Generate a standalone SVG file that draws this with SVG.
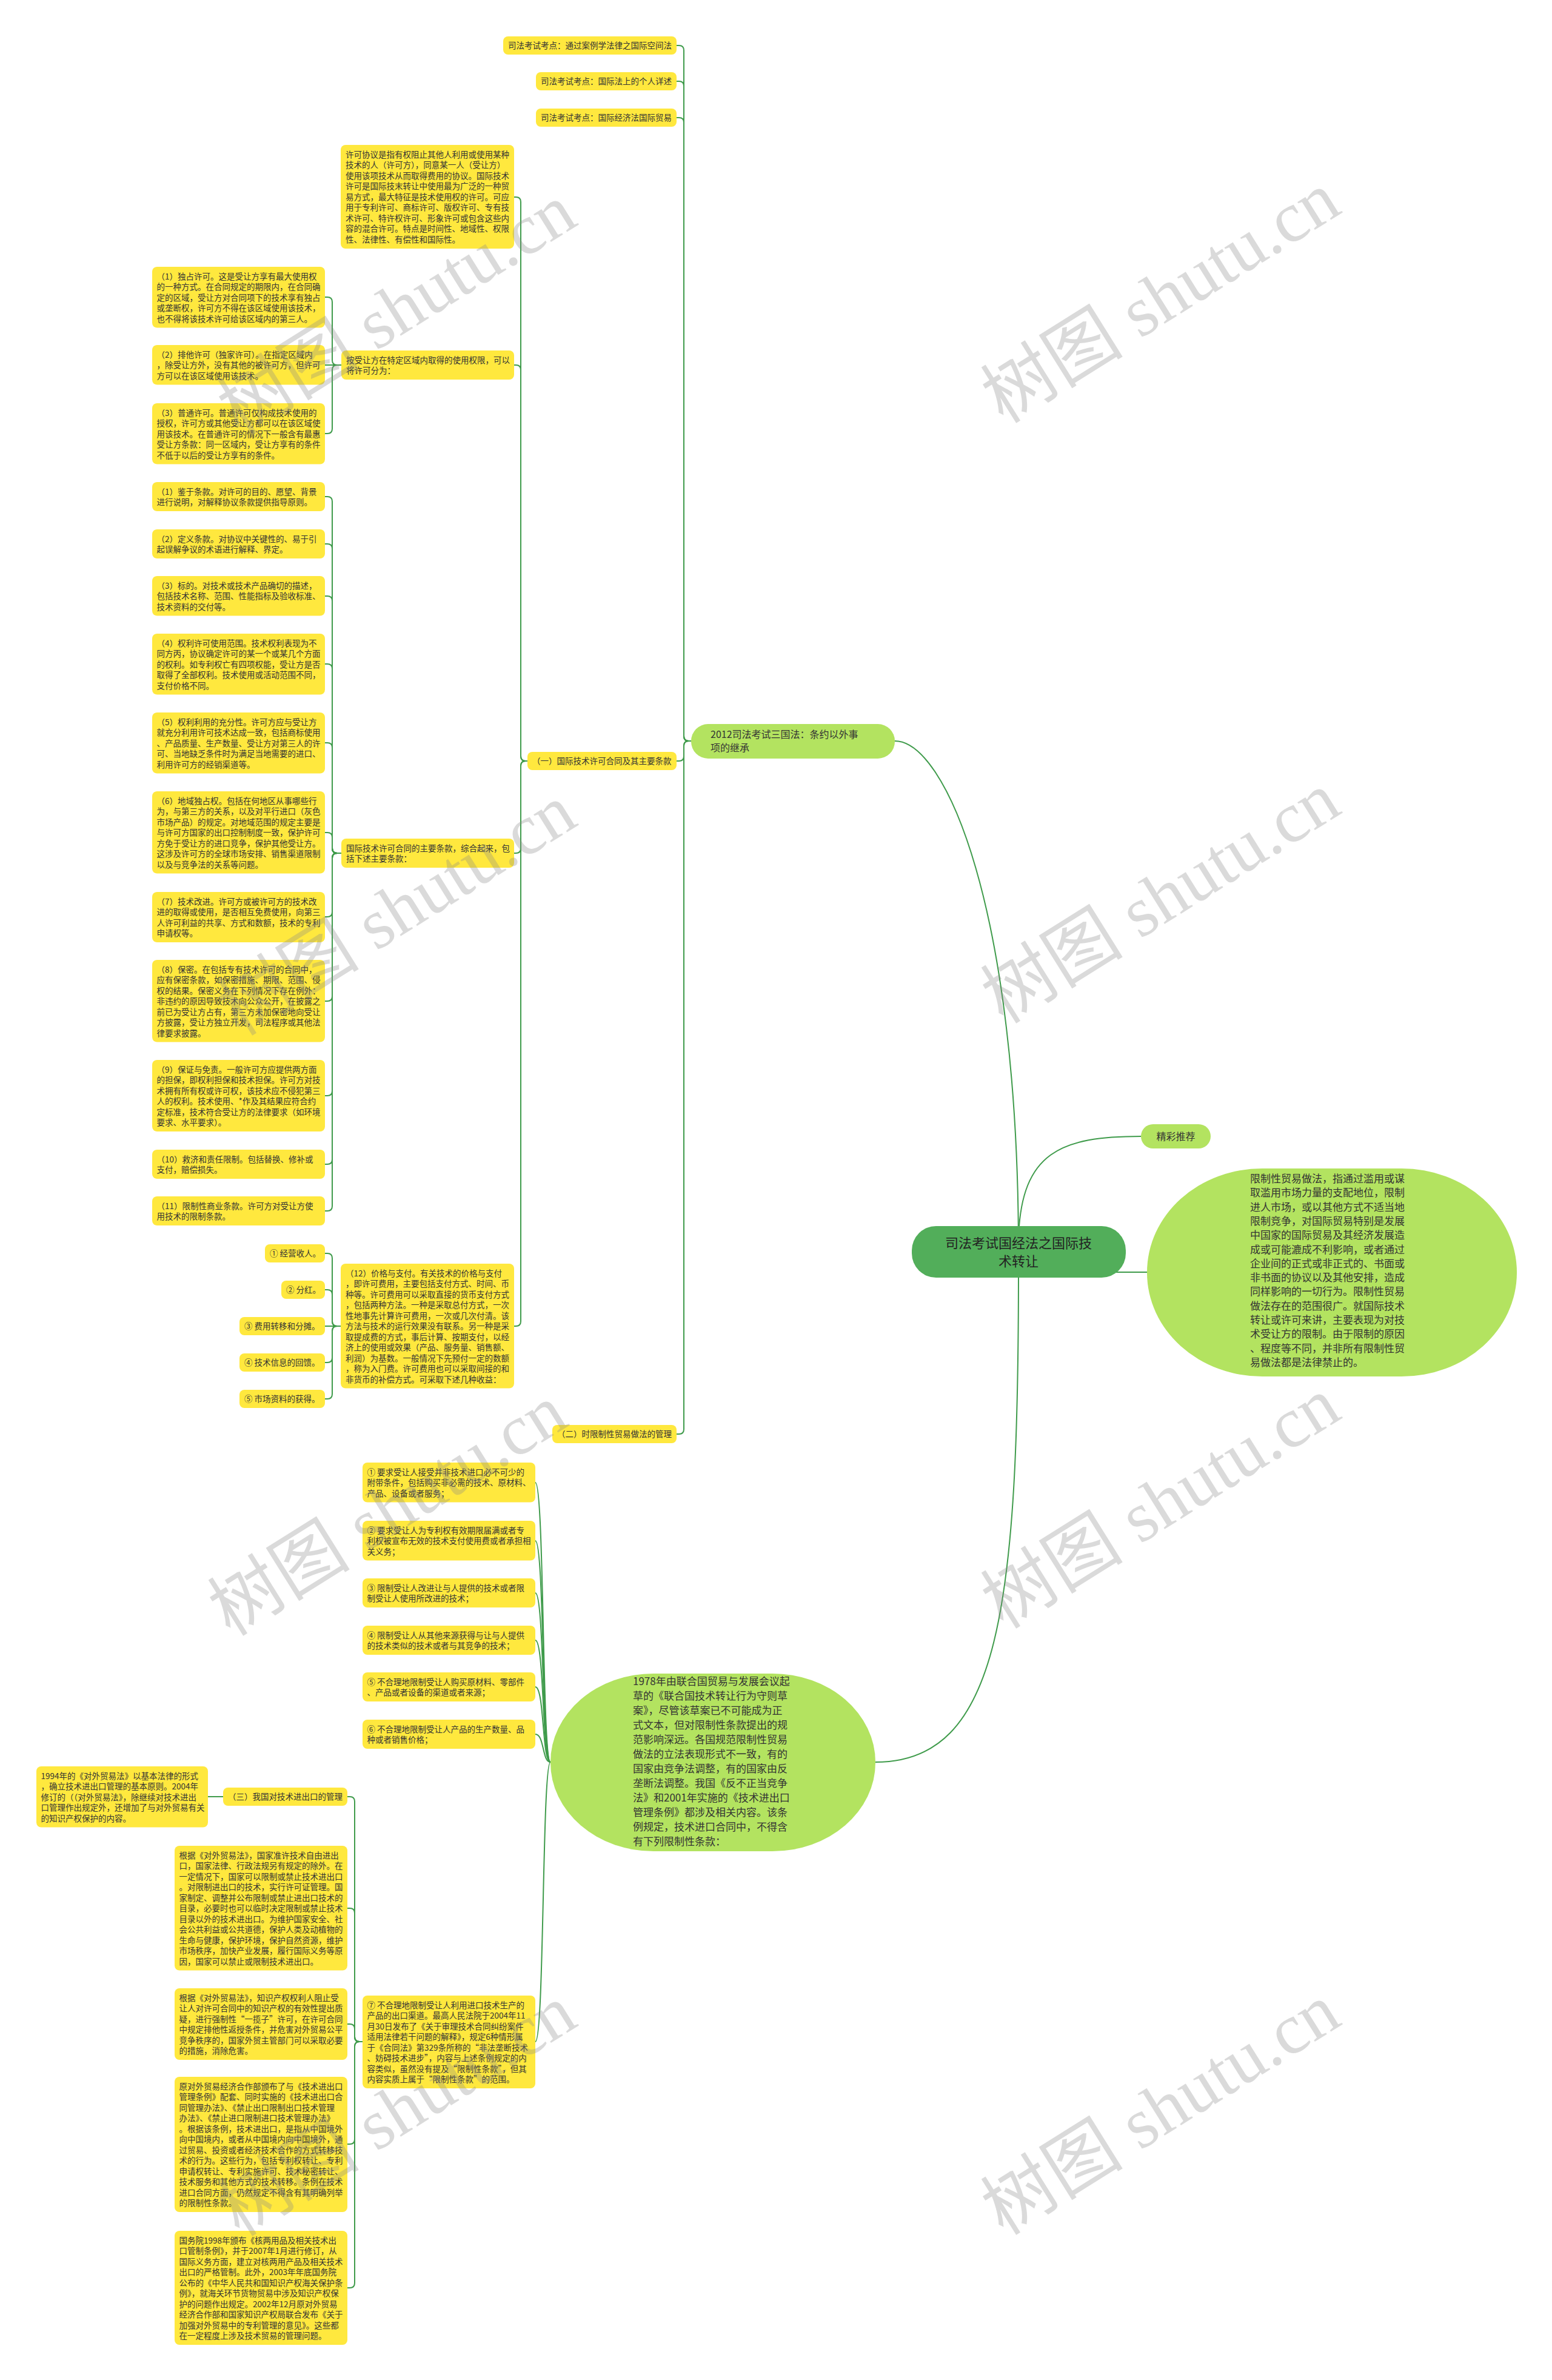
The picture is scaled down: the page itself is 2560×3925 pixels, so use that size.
<svg xmlns="http://www.w3.org/2000/svg" width="2560" height="3925" viewBox="0 0 2560 3925">
<style>
.y{fill:#ffe83e}
.g{fill:#b3e360}
.t{font-family:'Noto Sans CJK SC','Noto Sans',sans-serif;font-size:13.5px;fill:#333}
.m{font-family:'Noto Sans CJK SC','Noto Sans',sans-serif;font-size:17px;fill:#333}
.c{fill:none;stroke:#3f9b4b;stroke-width:2}
.wm{font-family:'Liberation Serif','Noto Sans CJK SC',serif;font-size:118px;fill:#888;opacity:0.3}
</style>
<rect width="2560" height="3925" fill="#fff"/>
<g id="connectors">
<path class="c" d="M1680 2064 C1680 1500 1560 1222 1476 1222"/>
<path class="c" d="M1680 2040 C1685 1900 1750 1874 1882 1874"/>
<path class="c" d="M1680 2098 H1892"/>
<path class="c" d="M1680 2090 C1680 2650 1650 2906 1444 2906"/>
<path class="c" d="M1116 75 H1120 Q1128 75 1128 83 V1214 Q1128 1222 1136 1222 H1140"/>
<path class="c" d="M1116 134 H1120 Q1128 134 1128 142 V1214 Q1128 1222 1136 1222 H1140"/>
<path class="c" d="M1116 194 H1120 Q1128 194 1128 202 V1214 Q1128 1222 1136 1222 H1140"/>
<path class="c" d="M1116 1255 H1120 Q1128 1255 1128 1247 V1230 Q1128 1222 1136 1222 H1140"/>
<path class="c" d="M1116 2365 H1120 Q1128 2365 1128 2357 V1230 Q1128 1222 1136 1222 H1140"/>
<path class="c" d="M848 325 H851 Q859 325 859 333 V1247 Q859 1255 867 1255 H870"/>
<path class="c" d="M848 602 H851 Q859 602 859 610 V1247 Q859 1255 867 1255 H870"/>
<path class="c" d="M848 1407 H851 Q859 1407 859 1399 V1263 Q859 1255 867 1255 H870"/>
<path class="c" d="M848 2187 H851 Q859 2187 859 2179 V1263 Q859 1255 867 1255 H870"/>
<path class="c" d="M536 490 H540 Q548 490 548 498 V594 Q548 602 556 602 H563"/>
<path class="c" d="M536 602 H563"/>
<path class="c" d="M536 715 H540 Q548 715 548 707 V610 Q548 602 556 602 H563"/>
<path class="c" d="M536 819 H540 Q548 819 548 827 V1399 Q548 1407 556 1407 H563"/>
<path class="c" d="M536 897 H540 Q548 897 548 905 V1399 Q548 1407 556 1407 H563"/>
<path class="c" d="M536 983 H540 Q548 983 548 991 V1399 Q548 1407 556 1407 H563"/>
<path class="c" d="M536 1095 H540 Q548 1095 548 1103 V1399 Q548 1407 556 1407 H563"/>
<path class="c" d="M536 1225 H540 Q548 1225 548 1233 V1399 Q548 1407 556 1407 H563"/>
<path class="c" d="M536 1373 H540 Q548 1373 548 1381 V1399 Q548 1407 556 1407 H563"/>
<path class="c" d="M536 1512 H540 Q548 1512 548 1504 V1415 Q548 1407 556 1407 H563"/>
<path class="c" d="M536 1651 H540 Q548 1651 548 1643 V1415 Q548 1407 556 1407 H563"/>
<path class="c" d="M536 1807 H540 Q548 1807 548 1799 V1415 Q548 1407 556 1407 H563"/>
<path class="c" d="M536 1920 H540 Q548 1920 548 1912 V1415 Q548 1407 556 1407 H563"/>
<path class="c" d="M536 1997 H540 Q548 1997 548 1989 V1415 Q548 1407 556 1407 H563"/>
<path class="c" d="M536 2067 H540 Q548 2067 548 2075 V2179 Q548 2187 556 2187 H562"/>
<path class="c" d="M536 2127 H540 Q548 2127 548 2135 V2179 Q548 2187 556 2187 H562"/>
<path class="c" d="M536 2187 H562"/>
<path class="c" d="M536 2247 H540 Q548 2247 548 2239 V2195 Q548 2187 556 2187 H562"/>
<path class="c" d="M536 2307 H540 Q548 2307 548 2299 V2195 Q548 2187 556 2187 H562"/>
<path class="c" d="M883 2445 C898 2445 894 2906 908 2906"/>
<path class="c" d="M883 2541 C898 2541 894 2906 908 2906"/>
<path class="c" d="M883 2627 C898 2627 894 2906 908 2906"/>
<path class="c" d="M883 2705 C898 2705 894 2906 908 2906"/>
<path class="c" d="M883 2782 C898 2782 894 2906 908 2906"/>
<path class="c" d="M883 2860 C898 2860 894 2906 908 2906"/>
<path class="c" d="M883 3367 C898 3367 894 2906 908 2906"/>
<path class="c" d="M573 2963 H577 Q585 2963 585 2971 V3359 Q585 3367 593 3367 H598"/>
<path class="c" d="M573 3147 H577 Q585 3147 585 3155 V3359 Q585 3367 593 3367 H598"/>
<path class="c" d="M573 3338 H577 Q585 3338 585 3346 V3359 Q585 3367 593 3367 H598"/>
<path class="c" d="M573 3536 H577 Q585 3536 585 3528 V3375 Q585 3367 593 3367 H598"/>
<path class="c" d="M573 3773 H577 Q585 3773 585 3765 V3375 Q585 3367 593 3367 H598"/>
<path class="c" d="M343 2963 H368"/>
</g>
<g id="root">
<rect x="1504" y="2022" width="353" height="85" rx="40" fill="#52ae5a"/>
<text x="1680" y="2058" text-anchor="middle" style="font-family:'Noto Sans CJK SC',sans-serif;font-size:22px;fill:#222">司法考试国经法之国际技<tspan x="1680" dy="30">术转让</tspan></text>
</g>
<g id="n-2012">
<rect class="g" x="1140" y="1194" width="336" height="57" rx="28"/>
<text x="1172" y="1217" style="font-family:'Noto Sans CJK SC',sans-serif;font-size:16px;fill:#333">2012司法考试三国法：条约以外事<tspan x="1172" dy="22">项的继承</tspan></text>
</g>
<g id="n-jc">
<rect class="g" x="1882" y="1854" width="115" height="40" rx="20"/>
<text x="1939.5" y="1880" text-anchor="middle" style="font-family:'Noto Sans CJK SC',sans-serif;font-size:16px;fill:#333">精彩推荐</text>
</g>
<g id="n-def">
<rect class="g" x="1892" y="1927" width="610" height="343" rx="190" ry="171"/>
<text class="m" x="2062" y="1950">限制性贸易做法，指通过滥用或谋<tspan x="2062" dy="23.3">取滥用市场力量的支配地位，限制</tspan><tspan x="2062" dy="23.3">进人市场，或以其他方式不适当地</tspan><tspan x="2062" dy="23.3">限制竞争，对国际贸易特别是发展</tspan><tspan x="2062" dy="23.3">中国家的国际贸易及其经济发展造</tspan><tspan x="2062" dy="23.3">成或可能漉成不利影响，或者通过</tspan><tspan x="2062" dy="23.3">企业间的正式或非正式的、书面或</tspan><tspan x="2062" dy="23.3">非书面的协议以及其他安排，造成</tspan><tspan x="2062" dy="23.3">同样影响的一切行为。限制性贸易</tspan><tspan x="2062" dy="23.3">做法存在的范围很广。就国际技术</tspan><tspan x="2062" dy="23.3">转让或许可来讲，主要表现为对技</tspan><tspan x="2062" dy="23.3">术受让方的限制。由于限制的原因</tspan><tspan x="2062" dy="23.3">、程度等不同，并非所有限制性贸</tspan><tspan x="2062" dy="23.3">易做法都是法律禁止的。</tspan></text>
</g>
<g id="n-1978">
<rect class="g" x="908" y="2760" width="536" height="293" rx="170" ry="146"/>
<text class="m" x="1044" y="2779">1978年由联合国贸易与发展会议起<tspan x="1044" dy="24">草的《联合国技术转让行为守则草</tspan><tspan x="1044" dy="24">案》，尽管该草案已不可能成为正</tspan><tspan x="1044" dy="24">式文本，但对限制性条款提出的规</tspan><tspan x="1044" dy="24">范影响深远。各国规范限制性贸易</tspan><tspan x="1044" dy="24">做法的立法表现形式不一致，有的</tspan><tspan x="1044" dy="24">国家由竞争法调整，有的国家由反</tspan><tspan x="1044" dy="24">垄断法调整。我国《反不正当竞争</tspan><tspan x="1044" dy="24">法》和2001年实施的《技术进出口</tspan><tspan x="1044" dy="24">管理条例》都涉及相关内容。该条</tspan><tspan x="1044" dy="24">例规定，技术进口合同中，不得含</tspan><tspan x="1044" dy="24">有下列限制性条款：</tspan></text>
</g>
<g id="n-t1"><rect class="y" x="830" y="60" width="286" height="30" rx="8"/><text class="t" x="838" y="80">司法考试考点：通过案例学法律之国际空间法</text></g>
<g id="n-t2"><rect class="y" x="884" y="119" width="232" height="30" rx="8"/><text class="t" x="892" y="139">司法考试考点：国际法上的个人详述</text></g>
<g id="n-t3"><rect class="y" x="884" y="179" width="232" height="30" rx="8"/><text class="t" x="892" y="199">司法考试考点：国际经济法国际贸易</text></g>
<g id="n-s1"><rect class="y" x="870" y="1240" width="246" height="30" rx="8"/><text class="t" x="878" y="1260">（一）国际技术许可合同及其主要条款</text></g>
<g id="n-s2"><rect class="y" x="911" y="2350" width="205" height="30" rx="8"/><text class="t" x="919" y="2370">（二）时限制性贸易做法的管理</text></g>
<g id="n-p1"><rect class="y" x="562" y="239" width="286" height="171" rx="8"/><text class="t" x="570" y="259.5">许可协议是指有权阻止其他人利用或使用某种<tspan x="570" dy="17.5">技术的人（许可方），同意某一人（受让方）</tspan><tspan x="570" dy="17.5">使用该项技术从而取得费用的协议。国际技术</tspan><tspan x="570" dy="17.5">许可是国际技末转让中使用最为广泛的一种贸</tspan><tspan x="570" dy="17.5">易方式，最大特征是技术使用权的许可。可应</tspan><tspan x="570" dy="17.5">用于专利许可、商标许可、版权许可、专有技</tspan><tspan x="570" dy="17.5">术许可、特许权许可、形象许可或包含这些内</tspan><tspan x="570" dy="17.5">容的混合许可。特点是时间性、地域性、权限</tspan><tspan x="570" dy="17.5">性、法律性、有偿性和国际性。</tspan></text></g>
<g id="n-a0"><rect class="y" x="563" y="578" width="285" height="48" rx="8"/><text class="t" x="571" y="598.5">按受让方在特定区域内取得的使用权限，可以<tspan x="571" dy="17.5">将许可分为：</tspan></text></g>
<g id="n-a1"><rect class="y" x="251" y="440" width="285" height="100.5" rx="8"/><text class="t" x="258.5" y="460.5">（1）独占许可。这是受让方享有最大使用权<tspan x="258.5" dy="17.5">的一种方式。在合同规定的期限内，在合同确</tspan><tspan x="258.5" dy="17.5">定的区域，受让方对合同项下的技术享有独占</tspan><tspan x="258.5" dy="17.5">或垄断权，许可方不得在该区域使用该技术，</tspan><tspan x="258.5" dy="17.5">也不得将该技术许可给该区域内的第三人。</tspan></text></g>
<g id="n-a2"><rect class="y" x="251" y="569" width="285" height="65.5" rx="8"/><text class="t" x="258.5" y="589.5">（2）排他许可（独家许可）。在指定区域内<tspan x="258.5" dy="17.5">，除受让方外，没有其他的被许可方，但许可</tspan><tspan x="258.5" dy="17.5">方可以在该区域使用该技术。</tspan></text></g>
<g id="n-a3"><rect class="y" x="251" y="665" width="285" height="100.5" rx="8"/><text class="t" x="258.5" y="685.5">（3）普通许可。普通许可仅构成技术使用的<tspan x="258.5" dy="17.5">授权，许可方或其他受让方都可以在该区域使</tspan><tspan x="258.5" dy="17.5">用该技术。在普通许可的情况下一般含有最惠</tspan><tspan x="258.5" dy="17.5">受让方条款：同一区域内，受让方享有的条件</tspan><tspan x="258.5" dy="17.5">不低于以后的受让方享有的条件。</tspan></text></g>
<g id="n-b0"><rect class="y" x="563" y="1383" width="285" height="48" rx="8"/><text class="t" x="571" y="1403.5">国际技术许可合同的主要条款，综合起来，包<tspan x="571" dy="17.5">括下述主要条款：</tspan></text></g>
<g id="n-b1"><rect class="y" x="251" y="795" width="285" height="48" rx="8"/><text class="t" x="258.5" y="815.5">（1）鉴于条款。对许可的目的、愿望、背景<tspan x="258.5" dy="17.5">进行说明，对解释协议条款提供指导原则。</tspan></text></g>
<g id="n-b2"><rect class="y" x="251" y="873" width="285" height="48" rx="8"/><text class="t" x="258.5" y="893.5">（2）定义条款。对协议中关键性的、易于引<tspan x="258.5" dy="17.5">起误解争议的术语进行解释、界定。</tspan></text></g>
<g id="n-b3"><rect class="y" x="251" y="950" width="285" height="65.5" rx="8"/><text class="t" x="258.5" y="970.5">（3）标的。对技术或技术产品确切的描述，<tspan x="258.5" dy="17.5">包括技术名称、范围、性能指标及验收标准、</tspan><tspan x="258.5" dy="17.5">技术资料的交付等。</tspan></text></g>
<g id="n-b4"><rect class="y" x="251" y="1045" width="285" height="100.5" rx="8"/><text class="t" x="258.5" y="1065.5">（4）权利许可使用范围。技术权利表现为不<tspan x="258.5" dy="17.5">同方丙，协议确定许可的某一个或某几个方面</tspan><tspan x="258.5" dy="17.5">的权利。如专利权亡有四项权能，受让方是否</tspan><tspan x="258.5" dy="17.5">取得了全部权利。技术使用或活动范围不同，</tspan><tspan x="258.5" dy="17.5">支付价格不同。</tspan></text></g>
<g id="n-b5"><rect class="y" x="251" y="1175" width="285" height="100.5" rx="8"/><text class="t" x="258.5" y="1195.5">（5）权利利用的充分性。许可方应与受让方<tspan x="258.5" dy="17.5">就充分利用许可技术达成一致，包括商标使用</tspan><tspan x="258.5" dy="17.5">、产品质量、生产数量、受让方对第三人的许</tspan><tspan x="258.5" dy="17.5">可、当地缺乏条件时为满足当地需要的进口、</tspan><tspan x="258.5" dy="17.5">利用许可方的经销渠道等。</tspan></text></g>
<g id="n-b6"><rect class="y" x="251" y="1305" width="285" height="135.5" rx="8"/><text class="t" x="258.5" y="1325.5">（6）地域独占权。包括在何地区从事哪些行<tspan x="258.5" dy="17.5">为，与第三方的关系，以及对平行进口（灰色</tspan><tspan x="258.5" dy="17.5">市场产品）的规定。对地域范围的规定主要是</tspan><tspan x="258.5" dy="17.5">与许可方国家的出口控制制度一致，保护许可</tspan><tspan x="258.5" dy="17.5">方免于受让方的进口竞争，保护其他受让方。</tspan><tspan x="258.5" dy="17.5">这涉及许可方的全球市场安排、销售渠道限制</tspan><tspan x="258.5" dy="17.5">以及与竞争法的关系等问题。</tspan></text></g>
<g id="n-b7"><rect class="y" x="251" y="1471" width="285" height="83" rx="8"/><text class="t" x="258.5" y="1491.5">（7）技术改进。许可方或被许可方的技术改<tspan x="258.5" dy="17.5">进的取得或使用，是否相互免费使用，向第三</tspan><tspan x="258.5" dy="17.5">人许可利益的共享、方式和数额，技术的专利</tspan><tspan x="258.5" dy="17.5">申请权等。</tspan></text></g>
<g id="n-b8"><rect class="y" x="251" y="1583" width="285" height="135.5" rx="8"/><text class="t" x="258.5" y="1603.5">（8）保密。在包括专有技术许可的合同中，<tspan x="258.5" dy="17.5">应有保密条款，如保密措施、期限、范围、侵</tspan><tspan x="258.5" dy="17.5">权的结果。保密义务在下列情况下存在例外：</tspan><tspan x="258.5" dy="17.5">非违约的原因导致技术向公众公开，在披露之</tspan><tspan x="258.5" dy="17.5">前已为受让方占有，第三方未加保密地向受让</tspan><tspan x="258.5" dy="17.5">方披露，受让方独立开发，司法程序或其他法</tspan><tspan x="258.5" dy="17.5">律要求披露。</tspan></text></g>
<g id="n-b9"><rect class="y" x="251" y="1748" width="285" height="118" rx="8"/><text class="t" x="258.5" y="1768.5">（9）保证与免责。一般许可方应提供两方面<tspan x="258.5" dy="17.5">的担保，即权利担保和技术担保。许可方对技</tspan><tspan x="258.5" dy="17.5">术拥有所有权或许可权，该技术应不侵犯第三</tspan><tspan x="258.5" dy="17.5">人的权利。技术使用、*作及其结果应符合约</tspan><tspan x="258.5" dy="17.5">定标准，技术符合受让方的法律要求（如环境</tspan><tspan x="258.5" dy="17.5">要求、水平要求）。</tspan></text></g>
<g id="n-b10"><rect class="y" x="251" y="1896" width="285" height="48" rx="8"/><text class="t" x="258.5" y="1916.5">（10）救济和责任限制。包括替换、修补或<tspan x="258.5" dy="17.5">支付，赔偿损失。</tspan></text></g>
<g id="n-b11"><rect class="y" x="251" y="1973" width="285" height="48" rx="8"/><text class="t" x="258.5" y="1993.5">（11）限制性商业条款。许可方对受让方使<tspan x="258.5" dy="17.5">用技术的限制条款。</tspan></text></g>
<g id="n-c0"><rect class="y" x="562" y="2084" width="286" height="205.5" rx="8"/><text class="t" x="570" y="2104.5">（12）价格与支付。有关技术的价格与支付<tspan x="570" dy="17.5">，即许可费用，主要包括支付方式、时间、币</tspan><tspan x="570" dy="17.5">种等。许可费用可以采取直接的货币支付方式</tspan><tspan x="570" dy="17.5">，包括两种方法。一种是采取总付方式，一次</tspan><tspan x="570" dy="17.5">性地事先计算许可费用，一次或几次付清。该</tspan><tspan x="570" dy="17.5">方法与技术的运行效果没有联系。另一种是采</tspan><tspan x="570" dy="17.5">取提成费的方式，事后计算、按期支付，以经</tspan><tspan x="570" dy="17.5">济上的使用或效果（产品、服务量、销售额、</tspan><tspan x="570" dy="17.5">利润）为基数。一般情况下先预付一定的数额</tspan><tspan x="570" dy="17.5">，称为入门费。许可费用也可以采取间接的和</tspan><tspan x="570" dy="17.5">非货币的补偿方式。可采取下述几种收益：</tspan></text></g>
<g id="n-c1"><rect class="y" x="437" y="2052" width="99" height="30" rx="8"/><text class="t" x="445" y="2072">① 经营收人。</text></g>
<g id="n-c2"><rect class="y" x="464" y="2112" width="72" height="30" rx="8"/><text class="t" x="472" y="2132">② 分红。</text></g>
<g id="n-c3"><rect class="y" x="395" y="2172" width="141" height="30" rx="8"/><text class="t" x="403" y="2192">③ 费用转移和分摊。</text></g>
<g id="n-c4"><rect class="y" x="395" y="2232" width="141" height="30" rx="8"/><text class="t" x="403" y="2252">④ 技术信息的回馈。</text></g>
<g id="n-c5"><rect class="y" x="395" y="2292" width="141" height="30" rx="8"/><text class="t" x="403" y="2312">⑤ 市场资料的获得。</text></g>
<g id="n-d1"><rect class="y" x="598" y="2412" width="285" height="65.5" rx="8"/><text class="t" x="605.5" y="2432.5">① 要求受让人接受并非技术进口必不可少的<tspan x="605.5" dy="17.5">附带条件，包括购买非必需的技术、原材料、</tspan><tspan x="605.5" dy="17.5">产品、设备或者服务；</tspan></text></g>
<g id="n-d2"><rect class="y" x="598" y="2508" width="285" height="65.5" rx="8"/><text class="t" x="605.5" y="2528.5">② 要求受让人为专利权有效期限届满或者专<tspan x="605.5" dy="17.5">利权被宣布无效的技术支付使用费或者承担相</tspan><tspan x="605.5" dy="17.5">关义务；</tspan></text></g>
<g id="n-d3"><rect class="y" x="598" y="2603" width="285" height="48" rx="8"/><text class="t" x="605.5" y="2623.5">③ 限制受让人改进让与人提供的技术或者限<tspan x="605.5" dy="17.5">制受让人使用所改进的技术；</tspan></text></g>
<g id="n-d4"><rect class="y" x="598" y="2681" width="285" height="48" rx="8"/><text class="t" x="605.5" y="2701.5">④ 限制受让人从其他来源获得与让与人提供<tspan x="605.5" dy="17.5">的技术类似的技术或者与其竞争的技术；</tspan></text></g>
<g id="n-d5"><rect class="y" x="598" y="2758" width="285" height="48" rx="8"/><text class="t" x="605.5" y="2778.5">⑤ 不合理地限制受让人购买原材料、零部件<tspan x="605.5" dy="17.5">、产品或者设备的渠道或者来源；</tspan></text></g>
<g id="n-d6"><rect class="y" x="598" y="2836" width="285" height="48" rx="8"/><text class="t" x="605.5" y="2856.5">⑥ 不合理地限制受让人产品的生产数量、品<tspan x="605.5" dy="17.5">种或者销售价格；</tspan></text></g>
<g id="n-d7"><rect class="y" x="598" y="3291" width="285" height="153" rx="8"/><text class="t" x="605.5" y="3311.5">⑦ 不合理地限制受让人利用进口技术生产的<tspan x="605.5" dy="17.5">产品的出口渠道。最高人民法院于2004年11</tspan><tspan x="605.5" dy="17.5">月30日发布了《关于审理技术合同纠纷案件</tspan><tspan x="605.5" dy="17.5">适用法律若干问题的解释》，规定6种情形属</tspan><tspan x="605.5" dy="17.5">于《合同法》第329条所称的“非法垄断技术</tspan><tspan x="605.5" dy="17.5">、妨碍技术进步”，内容与上述条例规定的内</tspan><tspan x="605.5" dy="17.5">容类似，虽然没有提及“限制性条款”，但其</tspan><tspan x="605.5" dy="17.5">内容实质上属于“限制性条款”的范围。</tspan></text></g>
<g id="n-e0"><rect class="y" x="368" y="2948" width="205" height="30" rx="8"/><text class="t" x="376" y="2968">（三）我国对技术进出口的管理</text></g>
<g id="n-e1"><rect class="y" x="60" y="2913" width="283" height="100.5" rx="8"/><text class="t" x="67.5" y="2933.5">1994年的《对外贸易法》以基本法律的形式<tspan x="67.5" dy="17.5">，确立技术进出口管理的基本原则。2004年</tspan><tspan x="67.5" dy="17.5">修订的（（对外贸易法》，除继续对技术进出</tspan><tspan x="67.5" dy="17.5">口管理作出规定外，还增加了与对外贸易有关</tspan><tspan x="67.5" dy="17.5">的知识产权保护的内容。</tspan></text></g>
<g id="n-e2"><rect class="y" x="288" y="3044" width="285" height="205.5" rx="8"/><text class="t" x="295.5" y="3064.5">根据《对外贸易法》，国家准许技术自由进出<tspan x="295.5" dy="17.5">口，国家法律、行政法规另有规定的除外。在</tspan><tspan x="295.5" dy="17.5">一定情况下，国家可以限制或禁止技术进出口</tspan><tspan x="295.5" dy="17.5">。对限制进出口的技术，实行许可证管理。国</tspan><tspan x="295.5" dy="17.5">家制定、调整并公布限制或禁止进出口技术的</tspan><tspan x="295.5" dy="17.5">目录，必要时也可以临时决定限制或禁止技术</tspan><tspan x="295.5" dy="17.5">目录以外的技术进出口。为维护国家安全、社</tspan><tspan x="295.5" dy="17.5">会公共利益或公共道德，保护人类及动植物的</tspan><tspan x="295.5" dy="17.5">生命与健康，保护环境，保护自然资源，维护</tspan><tspan x="295.5" dy="17.5">市场秩序，加快产业发展，履行国际义务等原</tspan><tspan x="295.5" dy="17.5">因，国家可以禁止或限制技术进出口。</tspan></text></g>
<g id="n-e3"><rect class="y" x="288" y="3279" width="285" height="118" rx="8"/><text class="t" x="295.5" y="3299.5">根据《对外贸易法》，知识产权权利人阻止受<tspan x="295.5" dy="17.5">让人对许可合同中的知识产权的有效性提出质</tspan><tspan x="295.5" dy="17.5">疑，进行强制性“一揽子”许可，在许可合同</tspan><tspan x="295.5" dy="17.5">中规定排他性返授条件，并危害对外贸易公平</tspan><tspan x="295.5" dy="17.5">竞争秩序的，国家外贸主管部门可以采取必要</tspan><tspan x="295.5" dy="17.5">的措施，消除危害。</tspan></text></g>
<g id="n-e4"><rect class="y" x="288" y="3425" width="285" height="223" rx="8"/><text class="t" x="295.5" y="3445.5">原对外贸易经济合作部颁布了与《技术进出口<tspan x="295.5" dy="17.5">管理条例》配套、同时实施的《技术进出口合</tspan><tspan x="295.5" dy="17.5">同管理办法》、《禁止出口限制出口技术管理</tspan><tspan x="295.5" dy="17.5">办法》、《禁止进口限制进口技术管理办法》</tspan><tspan x="295.5" dy="17.5">。根据该条例，技术进出口，是指从中国境外</tspan><tspan x="295.5" dy="17.5">向中国境内，或者从中国境内向中国境外，通</tspan><tspan x="295.5" dy="17.5">过贸易、投资或者经济技术合作的方式转移技</tspan><tspan x="295.5" dy="17.5">术的行为。这些行为，包括专利权转让、专利</tspan><tspan x="295.5" dy="17.5">申请权转让、专利实施许可、技术秘密转让、</tspan><tspan x="295.5" dy="17.5">技术服务和其他方式的技术转移。条例在技术</tspan><tspan x="295.5" dy="17.5">进口合同方面，仍然规定不得含有其明确列举</tspan><tspan x="295.5" dy="17.5">的限制性条款。</tspan></text></g>
<g id="n-e5"><rect class="y" x="288" y="3679" width="285" height="188" rx="8"/><text class="t" x="295.5" y="3699.5">国务院1998年颁布《核两用品及相关技术出<tspan x="295.5" dy="17.5">口管制条例》，并于2007年1月进行修订，从</tspan><tspan x="295.5" dy="17.5">国际义务方面，建立对核两用产品及相关技术</tspan><tspan x="295.5" dy="17.5">出口的严格管制。此外，2003年年底国务院</tspan><tspan x="295.5" dy="17.5">公布的《中华人民共和国知识产权海关保护条</tspan><tspan x="295.5" dy="17.5">例》，就海关环节货物贸易中涉及知识产权保</tspan><tspan x="295.5" dy="17.5">护的问题作出规定。2002年12月原对外贸易</tspan><tspan x="295.5" dy="17.5">经济合作部和国家知识产权局联合发布《关于</tspan><tspan x="295.5" dy="17.5">加强对外贸易中的专利管理的意见》。这些都</tspan><tspan x="295.5" dy="17.5">在一定程度上涉及技术贸易的管理问题。</tspan></text></g>
<g id="watermarks">
<text class="wm" transform="translate(395,720) rotate(-32)">树图 shutu.cn</text>
<text class="wm" transform="translate(1655,700) rotate(-32)">树图 shutu.cn</text>
<text class="wm" transform="translate(395,1710) rotate(-32)">树图 shutu.cn</text>
<text class="wm" transform="translate(1655,1690) rotate(-32)">树图 shutu.cn</text>
<text class="wm" transform="translate(380,2700) rotate(-32)">树图 shutu.cn</text>
<text class="wm" transform="translate(1655,2688) rotate(-32)">树图 shutu.cn</text>
<text class="wm" transform="translate(395,3690) rotate(-32)">树图 shutu.cn</text>
<text class="wm" transform="translate(1655,3688) rotate(-32)">树图 shutu.cn</text>
</g>
</svg>
